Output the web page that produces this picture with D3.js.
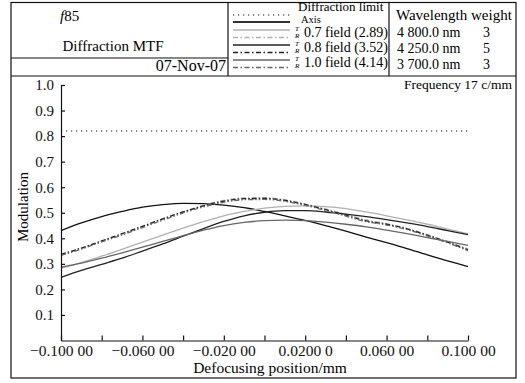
<!DOCTYPE html>
<html>
<head>
<meta charset="utf-8">
<script src="https://cdn.jsdelivr.net/npm/d3@7"></script>
<style>
  body { margin: 0; background: #fff; }
  svg { font-family: 'Liberation Serif', 'Times New Roman', serif; }
</style>
</head>
<body>
<div id="mtf"></div>
<script>
// Data

var defocus = [-0.10, -0.09, -0.08, -0.07, -0.06, -0.05, -0.04, -0.03, -0.02, -0.01, 0.00,
  0.01, 0.02, 0.03, 0.04, 0.05, 0.06, 0.07, 0.08, 0.09, 0.10]

var diffractionLimit = 0.82

var axisMTF = [0.430, 0.460, 0.485, 0.505, 0.522, 0.532, 0.537, 0.536, 0.530, 0.520, 0.505,
  0.488, 0.470, 0.450, 0.428, 0.405, 0.383, 0.360, 0.335, 0.312, 0.289]

var field07T = [0.283, 0.305, 0.330, 0.357, 0.385, 0.412, 0.440, 0.465, 0.488, 0.505, 0.518,
  0.525, 0.527, 0.524, 0.516, 0.503, 0.488, 0.472, 0.455, 0.436, 0.417]
var field07R = [0.335, 0.360, 0.388, 0.416, 0.446, 0.476, 0.504, 0.529, 0.548, 0.558, 0.559,
  0.551, 0.535, 0.515, 0.494, 0.472, 0.457, 0.439, 0.414, 0.387, 0.358]

var field08T = [0.247, 0.274, 0.298, 0.322, 0.350, 0.378, 0.408, 0.438, 0.466, 0.488, 0.502,
  0.508, 0.508, 0.503, 0.495, 0.485, 0.473, 0.460, 0.446, 0.430, 0.414]
var field08R = [0.337, 0.362, 0.390, 0.418, 0.447, 0.476, 0.503, 0.527, 0.545, 0.555, 0.556,
  0.548, 0.532, 0.512, 0.490, 0.468, 0.455, 0.437, 0.412, 0.385, 0.355]

var field10T = [0.287, 0.303, 0.322, 0.343, 0.365, 0.388, 0.410, 0.432, 0.450, 0.462, 0.469,
  0.471, 0.469, 0.463, 0.455, 0.445, 0.432, 0.418, 0.403, 0.388, 0.372]
var field10R = [0.333, 0.358, 0.386, 0.413, 0.442, 0.471, 0.499, 0.523, 0.541, 0.551, 0.552,
  0.545, 0.529, 0.509, 0.487, 0.465, 0.452, 0.434, 0.409, 0.382, 0.352]

var xTicks = [-0.10, -0.08, -0.06, -0.04, -0.02, 0.00, 0.02, 0.04, 0.06, 0.08, 0.10]
var xTickLabels = ['\u22120.100 00', '', '\u22120.060 00', '', '\u22120.020 00', '',
  '0.0200 0', '', '0.060 00', '', '0.100 00']
var yTicks = [0.1, 0.2, 0.3, 0.4, 0.5, 0.6, 0.7, 0.8, 0.9, 1.0]

var legendLabels = ['Diffraction limit', 'Axis', '0.7 field (2.89)', '0.8 field (3.52)', '1.0 field (4.14)']
var wavelengths = ['4 800.0 nm', '4 250.0 nm', '3 700.0 nm']
var weights = ['3', '5', '3']

// Series and their look

var series = [
  { key: 'axis', values: axisMTF, color: '#111', dash: null },
  { key: '07T', values: field07T, color: '#b0b0b0', dash: null },
  { key: '07R', values: field07R, color: '#b0b0b0', dash: '5,2,1.5,2' },
  { key: '08T', values: field08T, color: '#222', dash: null },
  { key: '08R', values: field08R, color: '#222', dash: '5,2,1.5,2' },
  { key: '10T', values: field10T, color: '#666', dash: null },
  { key: '10R', values: field10R, color: '#666', dash: '5,2,1.5,2,1.5,2' }
]

var width = 525
var height = 383

var svg = d3
  .select('#mtf')
  .append('svg')
  .attr('width', width)
  .attr('height', height)

// Frame and header table

var frame = svg.append('g').attr('fill', 'none').attr('stroke', '#111').attr('stroke-width', 1.2)
frame.append('rect').attr('x', 11).attr('y', 2.5).attr('width', 505).attr('height', 375.5)
frame.append('line').attr('x1', 11).attr('x2', 516).attr('y1', 76).attr('y2', 76)
frame.append('line').attr('x1', 228).attr('x2', 228).attr('y1', 2.5).attr('y2', 76)
frame.append('line').attr('x1', 389).attr('x2', 389).attr('y1', 2.5).attr('y2', 76)
frame.append('line').attr('x1', 11).attr('x2', 228).attr('y1', 58).attr('y2', 58)

svg.append('text')
  .attr('x', 60).attr('y', 21)
  .attr('font-size', 15)
  .html('<tspan font-style="italic">f</tspan>85')

svg.append('text')
  .text('Diffraction MTF')
  .attr('x', 113).attr('y', 51)
  .attr('text-anchor', 'middle')
  .attr('font-size', 15)

svg.append('text')
  .text('07-Nov-07')
  .attr('x', 226).attr('y', 71)
  .attr('text-anchor', 'end')
  .attr('font-size', 16)

// Legend

var legend = svg.append('g')

legend.append('line')
  .attr('x1', 233).attr('x2', 290).attr('y1', 15).attr('y2', 15)
  .attr('stroke', '#111').attr('stroke-width', 1.2).attr('stroke-dasharray', '1.2,3.8')

legend.append('line')
  .attr('x1', 233).attr('x2', 290).attr('y1', 22).attr('y2', 22)
  .attr('stroke', '#333').attr('stroke-width', 2)

var legendRows = [
  { solid: series[1], dashed: series[2], y: 30 },
  { solid: series[3], dashed: series[4], y: 45 },
  { solid: series[5], dashed: series[6], y: 60 }
]

legendRows.forEach(function(r) {
  legend.append('line')
    .attr('x1', 233).attr('x2', 290).attr('y1', r.y).attr('y2', r.y)
    .attr('stroke', r.solid.color).attr('stroke-width', 1.6)
  legend.append('line')
    .attr('x1', 233).attr('x2', 290).attr('y1', r.y + 7.5).attr('y2', r.y + 7.5)
    .attr('stroke', r.dashed.color).attr('stroke-width', 1.6)
    .attr('stroke-dasharray', '5,2.5,1.5,2.5')
  legend.append('text').text('T')
    .attr('x', 295).attr('y', r.y + 1).attr('font-size', 7).attr('font-style', 'italic')
  legend.append('text').text('R')
    .attr('x', 295).attr('y', r.y + 8).attr('font-size', 7).attr('font-style', 'italic')
})

legend.append('text').text(legendLabels[0])
  .attr('x', 298).attr('y', 10.5).attr('font-size', 13)
legend.append('text').text(legendLabels[1])
  .attr('x', 301).attr('y', 23).attr('font-size', 10.5)

legendRows.forEach(function(r, i) {
  legend.append('text').text(legendLabels[i + 2])
    .attr('x', 304).attr('y', r.y + 7).attr('font-size', 14)
})

// Wavelength table

svg.append('text').text('Wavelength weight')
  .attr('x', 396).attr('y', 20).attr('font-size', 15)

wavelengths.forEach(function(w, i) {
  svg.append('text').text(w)
    .attr('x', 397).attr('y', 37 + i * 16).attr('font-size', 14)
  svg.append('text').text(weights[i])
    .attr('x', 483).attr('y', 37 + i * 16).attr('font-size', 14)
})

svg.append('text').text('Frequency 17 c/mm')
  .attr('x', 512).attr('y', 89)
  .attr('text-anchor', 'end')
  .attr('font-size', 13.5)

// Create your scales

var xPositionScale = d3.scaleLinear().domain([-0.1, 0.1]).range([61, 468])
var yPositionScale = d3.scaleLinear().domain([0, 1]).range([340.5, 85])

var line = d3
  .line()
  .x(function(d, i) { return xPositionScale(defocus[i]) })
  .y(function(d) { return yPositionScale(d) })
  .curve(d3.curveMonotoneX)

var plot = svg.append('g')

plot.append('line')
  .attr('x1', xPositionScale(-0.1)).attr('x2', xPositionScale(0.1))
  .attr('y1', yPositionScale(diffractionLimit)).attr('y2', yPositionScale(diffractionLimit))
  .attr('stroke', '#111').attr('stroke-width', 1.2).attr('stroke-dasharray', '1.2,3.8')

plot.selectAll('.mtf-line')
  .data(series)
  .enter()
  .append('path')
  .attr('class', 'mtf-line')
  .attr('d', function(d) { return line(d.values) })
  .attr('fill', 'none')
  .attr('stroke', function(d) { return d.color })
  .attr('stroke-width', 1.3)
  .attr('stroke-dasharray', function(d) { return d.dash })

// Add your axes

var xAxis = d3.axisBottom(xPositionScale)
  .tickValues(xTicks)
  .tickSizeInner(-5)
  .tickSizeOuter(0)
  .tickPadding(4)
  .tickFormat(function(d, i) { return xTickLabels[i] })

svg.append('g')
  .attr('class', 'axis x-axis')
  .attr('transform', 'translate(0,340.5)')
  .call(xAxis)

var yAxis = d3.axisLeft(yPositionScale)
  .tickValues(yTicks)
  .tickSizeInner(-4)
  .tickSizeOuter(0)
  .tickPadding(7)
  .tickFormat(d3.format('.1f'))

svg.append('g')
  .attr('class', 'axis y-axis')
  .attr('transform', 'translate(61,0)')
  .call(yAxis)

svg.selectAll('.axis path, .axis line').attr('stroke', '#111').attr('stroke-width', 1.2)
svg.selectAll('.axis text')
  .attr('fill', '#111')
  .style('font-family', "'Liberation Serif', 'Times New Roman', serif")
svg.selectAll('.x-axis text').attr('font-size', 15.5)
svg.selectAll('.y-axis text').attr('font-size', 15)

svg.append('text')
  .text('Defocusing position/mm')
  .attr('x', 270).attr('y', 373)
  .attr('text-anchor', 'middle')
  .attr('font-size', 15.5)

svg.append('text')
  .text('Modulation')
  .attr('transform', 'translate(28,207) rotate(-90)')
  .attr('text-anchor', 'middle')
  .attr('font-size', 15)
</script>
</body>
</html>
